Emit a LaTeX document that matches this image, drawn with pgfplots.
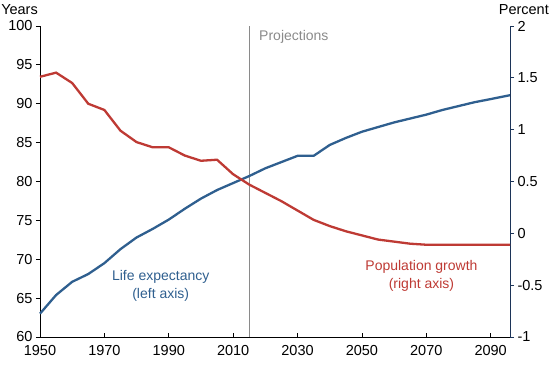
\documentclass[border=0pt]{standalone}
\usepackage{fontspec}
\setmainfont{Liberation Sans}
\usepackage{pgfplots}
\pgfplotsset{compat=1.18}
\definecolor{lifeblue}{HTML}{2F5F8F}
\definecolor{popred}{HTML}{BE3A34}
\definecolor{navy}{HTML}{1C3458}
\definecolor{projgray}{HTML}{8A8A8A}
\begin{document}
\begin{tikzpicture}
\useasboundingbox (-40pt,-28pt) rectangle (510pt,337pt);
\begin{axis}[
  scale only axis, width=470pt, height=311pt,
  xmin=1950, xmax=2096, ymin=60, ymax=100,
  axis y line*=left, axis x line*=bottom,
  axis line style={black, line width=0.9pt},
  xtick={1950,1970,...,2090}, ytick={60,65,...,100},
  x tick label style={/pgf/number format/1000 sep=, yshift=-5pt},
  tick style={black, line width=0.8pt},
  xtick align=inside, ytick align=outside,
  major tick length=4pt,
  ticklabel style={font=\fontsize{14.5}{16}\selectfont},
  /pgf/number format/assume math mode=true,
  clip=false,
]
\draw[projgray, line width=0.8pt] (axis cs:2015,60) -- (axis cs:2015,100);
\node[anchor=west, text=projgray, font=\fontsize{14}{16}\selectfont] at (axis cs:2017,98.6) {Projections};
\node[anchor=south east, font=\fontsize{14.5}{16}\selectfont, inner sep=0pt] at ([xshift=-2pt]rel axis cs:0,1.035) {Years};
\addplot[lifeblue, line width=2.3pt] coordinates {
(1950,63.0) (1955,65.4) (1960,67.1) (1965,68.1) (1970,69.5) (1975,71.3)
(1980,72.8) (1985,73.9) (1990,75.1) (1995,76.5) (2000,77.8) (2005,78.9)
(2010,79.8) (2015,80.7) (2020,81.7) (2025,82.5) (2030,83.3) (2035,83.3)
(2040,84.7) (2045,85.6) (2050,86.4) (2055,87.0) (2060,87.6) (2065,88.1)
(2070,88.6) (2075,89.2) (2080,89.7) (2085,90.2) (2090,90.6) (2096,91.1)
};
\node[text=lifeblue, align=center, font=\fontsize{14}{18}\selectfont] at (axis cs:1987.5,66.6) {Life expectancy\\(left axis)};
\end{axis}
\begin{axis}[
  scale only axis, width=470pt, height=311pt,
  xmin=1950, xmax=2096, ymin=-1, ymax=2,
  axis y line*=right, axis x line=none,
  axis line style={navy, line width=0.9pt},
  ytick={-1,-0.5,...,2},
  yticklabels={-1,-0.5,0,0.5,1,1.5,2},
  tick style={navy, line width=0.8pt},
  ytick align=outside,
  major tick length=4pt,
  ticklabel style={font=\fontsize{14.5}{16}\selectfont},
  /pgf/number format/assume math mode=true,
  clip=false,
]
\node[anchor=south east, font=\fontsize{14.5}{16}\selectfont, inner sep=0pt] at ([xshift=39pt]rel axis cs:1,1.035) {Percent};
\addplot[popred, line width=2.3pt] coordinates {
(1950,1.51) (1955,1.55) (1960,1.45) (1965,1.25) (1970,1.19) (1975,0.99)
(1980,0.88) (1985,0.83) (1990,0.83) (1995,0.75) (2000,0.70) (2005,0.71)
(2010,0.57) (2015,0.47) (2020,0.39) (2025,0.31) (2030,0.22) (2035,0.13)
(2040,0.07) (2045,0.02) (2050,-0.02) (2055,-0.06) (2060,-0.08) (2065,-0.10)
(2070,-0.11) (2075,-0.11) (2080,-0.11) (2085,-0.11) (2090,-0.11) (2096,-0.11)
};
\node[text=popred, align=center, font=\fontsize{14}{18}\selectfont] at (axis cs:2068.5,-0.41) {Population growth\\(right axis)};
\end{axis}
\end{tikzpicture}
\end{document}
